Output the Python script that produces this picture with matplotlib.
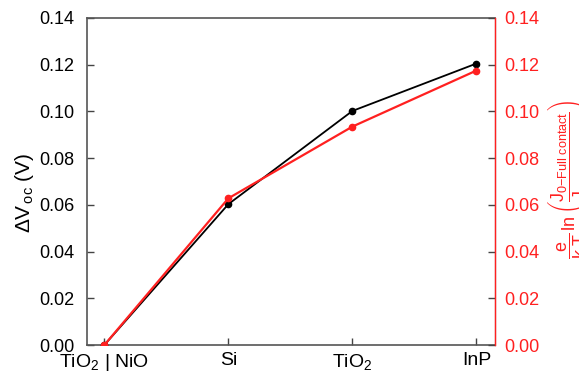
import matplotlib
matplotlib.use("Agg")
import matplotlib.pyplot as plt

categories = ["TiO$_2$ | NiO", "Si", "TiO$_2$", "InP"]
dvoc = [0.0, 0.0603, 0.1002, 0.1205]
calc = [0.0, 0.0628, 0.0935, 0.1175]
yticks = [0.00, 0.02, 0.04, 0.06, 0.08, 0.10, 0.12, 0.14]

plt.rcParams['font.family'] = ['Liberation Sans', 'DejaVu Sans']
plt.rcParams['mathtext.fontset'] = 'custom'
plt.rcParams['mathtext.rm'] = 'Liberation Sans'
plt.rcParams['mathtext.it'] = 'Liberation Sans'
plt.rcParams['mathtext.bf'] = 'Liberation Sans:bold'

fig = plt.figure(figsize=(5.79, 3.75), dpi=100)
ax = fig.add_axes([87/579, 1-345/375, (495-87)/579, (345-18)/375])
x = list(range(len(categories)))
ax.plot(x, dvoc, color='black', lw=1.3, marker='o', ms=4.5, zorder=3)
ax.set_xlim(-0.14, 3.15)
ax.set_ylim(0, 0.14)
ax.set_yticks(yticks)
ax.set_yticklabels([f"{v:.2f}" for v in yticks], fontsize=13)
ax.set_xticks(x)
ax.set_xticklabels(categories, fontsize=14)
ax.tick_params(axis='both', direction='in', length=5, color='#444444', width=1)
ax.tick_params(axis='x', pad=5)
ax.tick_params(axis='y', pad=9)
ax.set_ylabel(r'$\Delta V_{\,\rm oc}$ (V)', fontsize=15)
ax.yaxis.set_label_coords(-0.125, 0.465)
for s in ['left', 'top', 'bottom']:
    ax.spines[s].set_color('#555555')
    ax.spines[s].set_linewidth(1.2)

ax2 = ax.twinx()
ax2.plot(x, calc, color='#ff2020', lw=1.6, marker='o', ms=4.5, zorder=3)
ax2.set_ylim(0, 0.14)
ax2.set_yticks(yticks)
ax2.set_yticklabels([f"{v:.2f}" for v in yticks], fontsize=13, color='#ff2020')
ax2.tick_params(axis='y', direction='in', length=5, color='#444444', width=1, pad=7)
ax2.spines['right'].set_color('#ff2020')
ax2.spines['right'].set_linewidth(1.0)
for s in ['left', 'top', 'bottom']:
    ax2.spines[s].set_visible(False)
ax2.set_ylabel(r'$\dfrac{e}{k\;T}\,\ln\left(\dfrac{J_{0\mathrm{-Full\ contact}}}{J_{0\mathrm{-No\ contact}}}\right)$',
               fontsize=13, color='#ff2020')
ax2.yaxis.set_label_coords(1.124, 0.505)

fig.savefig('out.png', dpi=100)
